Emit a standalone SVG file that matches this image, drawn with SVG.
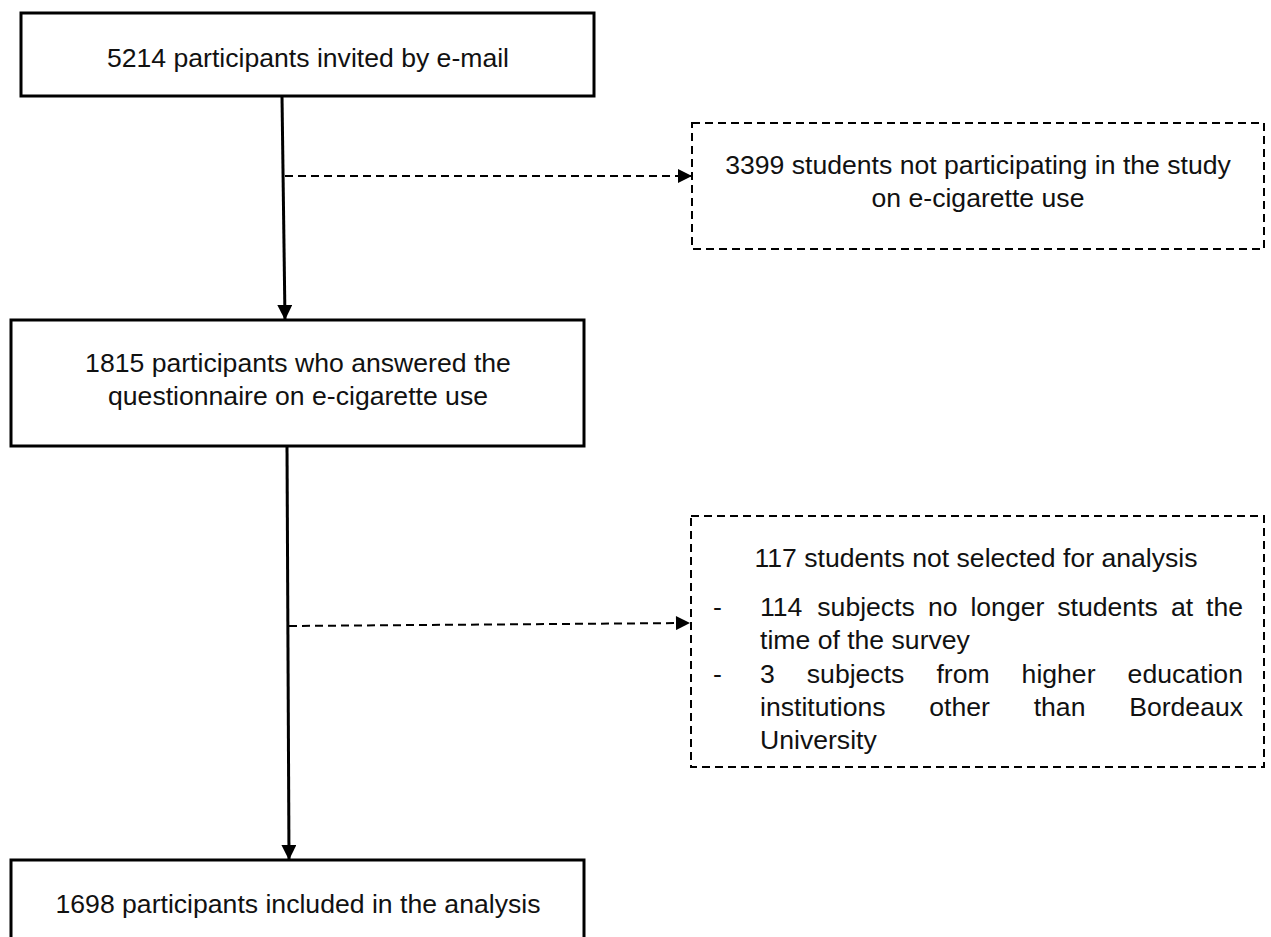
<svg xmlns="http://www.w3.org/2000/svg" width="1271" height="937" viewBox="0 0 1271 937">
<style>
text{font-family:"Liberation Sans",Arial,sans-serif;font-size:26.6px;fill:#111}
.c{text-anchor:middle}
.box{fill:#fff;stroke:#000;stroke-width:3}
.dbox{fill:#fff;stroke:#000;stroke-width:2;stroke-dasharray:8,5}
.solid{stroke:#000;stroke-width:3;fill:none}
.dash{stroke:#000;stroke-width:2;stroke-dasharray:8,5;fill:none}
</style>
<defs>
<marker id="ah" viewBox="0 0 10 10" refX="10" refY="5" markerWidth="5.5" markerHeight="5" orient="auto" markerUnits="strokeWidth">
<path d="M0,0 L10,5 L0,10 Z" fill="#000"/>
</marker>
<marker id="ahd" viewBox="0 0 10 10" refX="10" refY="5" markerWidth="7.5" markerHeight="7" orient="auto" markerUnits="strokeWidth">
<path d="M0,0 L10,5 L0,10 Z" fill="#000"/>
</marker>
</defs>
<rect width="1271" height="937" fill="#fff"/>
<g id="connectors">
<line class="solid" x1="282" y1="96" x2="285" y2="320" marker-end="url(#ah)"/>
<line class="dash" x1="285" y1="176" x2="692" y2="176" marker-end="url(#ahd)"/>
<line class="solid" x1="287" y1="446" x2="289" y2="860" marker-end="url(#ah)"/>
<line class="dash" x1="289" y1="626" x2="690" y2="623" marker-end="url(#ahd)"/>
</g>
<g id="invited">
<rect class="box" x="21" y="13" width="573" height="83"/>
<text class="c" x="308" y="67">5214 participants invited by e-mail</text>
</g>
<g id="not-participating">
<rect class="dbox" x="692" y="123" width="572" height="126"/>
<text class="c" x="978" y="174">3399 students not participating in the study</text>
<text class="c" x="978" y="207">on e-cigarette use</text>
</g>
<g id="answered">
<rect class="box" x="11" y="320" width="573" height="126"/>
<text class="c" x="298" y="372">1815 participants who answered the</text>
<text class="c" x="298" y="405">questionnaire on e-cigarette use</text>
</g>
<g id="not-selected">
<rect class="dbox" x="691" y="516" width="573" height="251"/>
<text class="c" x="976" y="567">117 students not selected for analysis</text>
<text x="713" y="616">-</text>
<text y="616"><tspan x="760">114</tspan><tspan x="817.3">subjects</tspan><tspan x="927.9">no</tspan><tspan x="970.4">longer</tspan><tspan x="1057.3">students</tspan><tspan x="1170.9">at</tspan><tspan x="1206">the</tspan></text>
<text x="760" y="649">time of the survey</text>
<text x="713" y="683">-</text>
<text y="683"><tspan x="760">3</tspan><tspan x="806.8">subjects</tspan><tspan x="936.4">from</tspan><tspan x="1021.6">higher</tspan><tspan x="1127.6">education</tspan></text>
<text y="716"><tspan x="760">institutions</tspan><tspan x="929.3">other</tspan><tspan x="1033.7">than</tspan><tspan x="1129.2">Bordeaux</tspan></text>
<text x="760" y="749">University</text>
</g>
<g id="included">
<rect class="box" x="11" y="860" width="573" height="100"/>
<text class="c" x="298" y="913">1698 participants included in the analysis</text>
</g>
</svg>
